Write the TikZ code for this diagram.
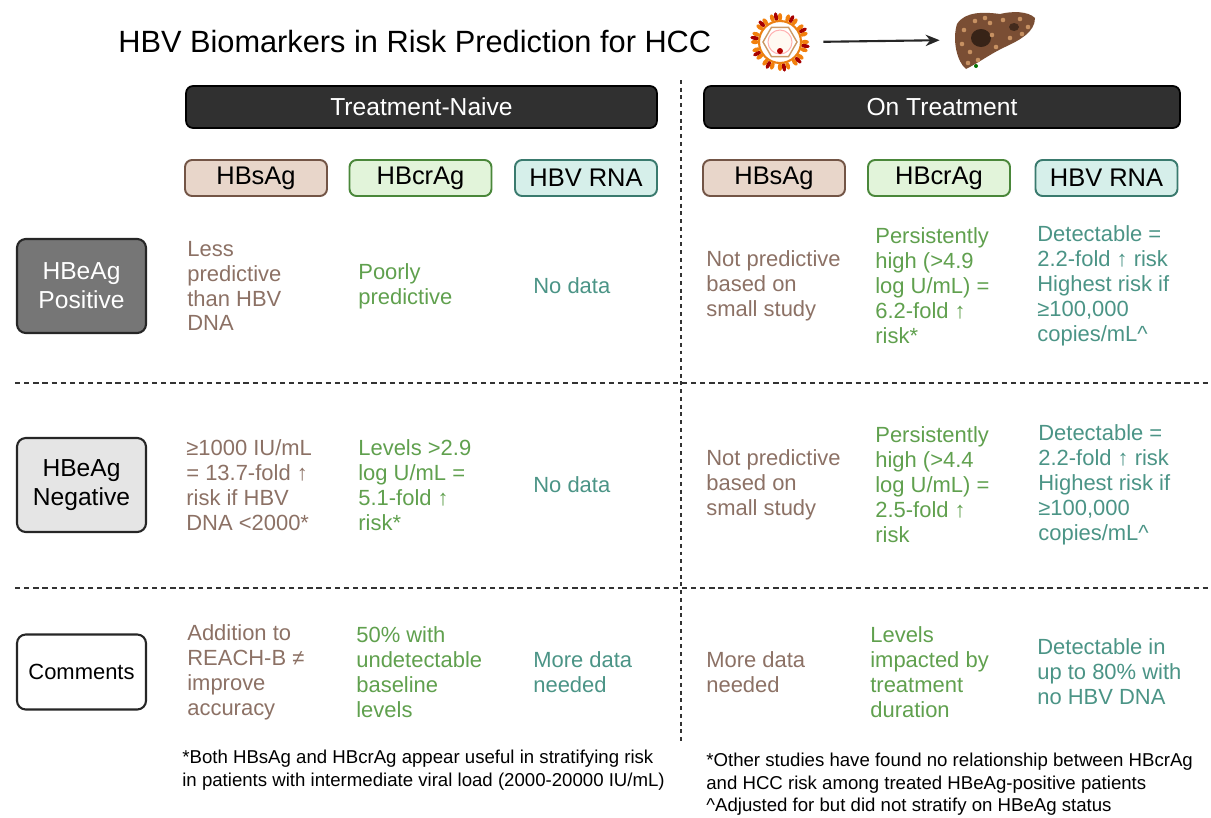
\documentclass[tikz,border=0pt]{standalone}
\usepackage{fontspec}
\setmainfont{Liberation Sans}
\usetikzlibrary{arrows.meta,positioning}

\definecolor{sagtext}{RGB}{140,113,101}
\definecolor{sagfill}{RGB}{232,214,202}
\definecolor{sagline}{RGB}{115,85,70}
\definecolor{cragtext}{RGB}{96,160,78}
\definecolor{cragfill}{RGB}{226,244,218}
\definecolor{cragline}{RGB}{74,135,58}
\definecolor{rnatext}{RGB}{75,148,134}
\definecolor{rnafill}{RGB}{214,239,234}
\definecolor{rnaline}{RGB}{58,122,110}
\definecolor{panelgray}{RGB}{48,48,48}
\definecolor{posgray}{RGB}{118,118,118}
\definecolor{neggray}{RGB}{229,229,229}
\definecolor{liverbrown}{RGB}{122,78,52}

\begin{document}
\begin{tikzpicture}[
                        x=0.02cm, y=-0.02cm,
                        panel/.style={draw=black, fill=panelgray, rounded corners=4pt,
                            line width=1pt, text=white, minimum height=0.84cm,
                            font=\fontsize{14}{16}\selectfont},
                        marker/.style={rounded corners=4pt, line width=1.1pt,
                            minimum width=2.84cm, minimum height=0.72cm,
                            font=\fontsize{14.5}{16}\selectfont},
                        status/.style={draw=black!85, rounded corners=5pt, line width=1.2pt,
                            minimum width=2.58cm, align=center,
                            font=\fontsize{14}{16.5}\selectfont},
                        cell/.style={anchor=west, align=left, inner sep=0pt,
                            font=\fontsize{12.5}{14.2}\selectfont},
                        note/.style={anchor=north west, align=left, inner sep=0pt,
                            font=\fontsize{10.6}{12.8}\selectfont},
                        divider/.style={line width=1.3pt, black!80, dash pattern=on 3pt off 2.2pt}
                    ]
                    \useasboundingbox (0,0) rectangle (1211,818);

                    % title and icons
                    \node[anchor=west, inner sep=0pt, font=\fontsize{17.5}{20}\selectfont]
                        (title) at (118,42) {HBV Biomarkers in Risk Prediction for HCC};

                    \node[circle, minimum size=1.12cm, inner sep=0pt] (virus) at (780,42) {};
                    \foreach \a in {0,18,...,342}
                        \fill[orange!80!brown, rotate around={\a:(780,42)}] (780,17) ellipse (2.2 and 4);
                    \foreach \a in {9,45,...,333}
                        \fill[red!65!black, rotate around={\a:(780,42)}] (780,16.5) ellipse (2 and 4.5);
                    \draw[orange!70!brown, line width=1.2pt, fill=white] (780,42) circle (21);
                    \draw[brown!80, line width=0.8pt] (797,42) -- (788.5,56.7) -- (771.5,56.7)
                        -- (763,42) -- (771.5,27.3) -- (788.5,27.3) -- cycle;
                    \draw[red!30, line width=0.6pt, fill=orange!5] (780,42) circle (12);
                    \fill[red!70!black] (780,51) circle (3);

                    \node[minimum width=1.6cm, minimum height=1.12cm, inner sep=0pt] (liver) at (995,40) {};
                    \fill[liverbrown] (957,24) .. controls (965,11) and (985,12) .. (1000,14)
                        .. controls (1012,11) and (1028,11) .. (1035,18)
                        .. controls (1035,32) and (1020,40) .. (1005,47)
                        .. controls (990,54) and (980,62) .. (966,69)
                        .. controls (957,62) and (952,40) .. (957,24) -- cycle;
                    \fill[black!55!liverbrown] (981,38) ellipse (10 and 9);
                    \fill[black!45!liverbrown] (1014,27) ellipse (5 and 4);
                    \foreach \p in {(964,30),(975,21),(990,23),(1003,20),(1020,19),(1028,27),(1010,38),(996,47),(970,52),(978,60),(962,44),(992,35),(968,63),(1022,34),(985,18)}
                        \fill[orange!40!liverbrown!70!white] \p circle (2.3);
                    \fill[green!45!black] (976,66) circle (2);

                    \draw[-{Stealth[length=8pt,width=6.5pt]}, line width=1.2pt, black!85,
                        shorten <=0.3cm, shorten >=0.3cm] (virus.east) -- (liver.west);

                    % column panels
                    \node[panel, minimum width=9.42cm] (naive) at (421.5,107) {Treatment-Naive};
                    \node[panel, minimum width=9.52cm] (ontx)  at (942,107)   {On Treatment};

                    \node[marker, draw=sagline,  fill=sagfill]  (sagA)  at (256,178)   {HBsAg};
                    \node[marker, draw=cragline, fill=cragfill] (cragA) at (420.5,178) {HBcrAg};
                    \node[marker, draw=rnaline,  fill=rnafill]  (rnaA)  at (586,178)   {HBV RNA};
                    \node[marker, draw=sagline,  fill=sagfill]  (sagB)  at (774,178)   {HBsAg};
                    \node[marker, draw=cragline, fill=cragfill] (cragB) at (939,178)   {HBcrAg};
                    \node[marker, draw=rnaline,  fill=rnafill]  (rnaB)  at (1106.5,178) {HBV RNA};

                    % row labels
                    \node[status, fill=posgray, text=white, minimum height=1.88cm] (pos) at (81.5,286) {HBeAg\\Positive};
                    \node[status, fill=neggray, minimum height=1.88cm] (neg) at (81.5,485) {HBeAg\\Negative};
                    \node[status, fill=white, minimum height=1.5cm,
                        font=\fontsize{12.5}{15}\selectfont] (comm) at (81.5,672) {Comments};

                    % dividers
                    \draw[divider] (15,383) -- (1211,383);
                    \draw[divider] (15,588) -- (1211,588);
                    \draw[divider, dash pattern=on 2.2pt off 2.2pt] (681,80) -- (681,742);

                    % HBeAg positive
                    \node[cell, sagtext]  (posA1) at (187,286) {Less\\predictive\\than HBV\\DNA};
                    \node[cell, cragtext] (posA2) at (358,286) {Poorly\\predictive};
                    \node[cell, rnatext]  (posA3) at (533,286) {No data};
                    \node[cell, sagtext]  (posB1) at (706,286) {Not predictive\\based on\\small study};
                    \node[cell, cragtext] (posB2) at (875,286) {Persistently\\high (>4.9\\log U/mL) =\\6.2-fold ↑\\risk*};
                    \node[cell, rnatext]  (posB3) at (1037,286) {Detectable =\\2.2-fold ↑ risk\\Highest risk if\\≥100,000\\copies/mL\^{}};

                    % HBeAg negative
                    \node[cell, sagtext]  (negA1) at (186,485) {≥1000 IU/mL\\= 13.7-fold ↑\\risk if HBV\\DNA <2000*};
                    \node[cell, cragtext] (negA2) at (358,485) {Levels >2.9\\log U/mL =\\5.1-fold ↑\\risk*};
                    \node[cell, rnatext]  (negA3) at (533,485) {No data};
                    \node[cell, sagtext]  (negB1) at (706,485) {Not predictive\\based on\\small study};
                    \node[cell, cragtext] (negB2) at (875,485) {Persistently\\high (>4.4\\log U/mL) =\\2.5-fold ↑\\risk};
                    \node[cell, rnatext]  (negB3) at (1038,485) {Detectable =\\2.2-fold ↑ risk\\Highest risk if\\≥100,000\\copies/mL\^{}};

                    % comments
                    \node[cell, sagtext]  (comA1) at (187,672) {Addition to\\REACH-B ≠\\improve\\accuracy};
                    \node[cell, cragtext] (comA2) at (356,672) {50\% with\\undetectable\\baseline\\levels};
                    \node[cell, rnatext]  (comA3) at (533,672) {More data\\needed};
                    \node[cell, sagtext]  (comB1) at (706,672) {More data\\needed};
                    \node[cell, cragtext] (comB2) at (870,672) {Levels\\impacted by\\treatment\\duration};
                    \node[cell, rnatext]  (comB3) at (1037,672) {Detectable in\\up to 80\% with\\no HBV DNA};

                    % footnotes
                    \node[note] (noteA) at (182,750) {*Both HBsAg and HBcrAg appear useful in stratifying risk\\in patients with intermediate viral load (2000-20000 IU/mL)};
                    \node[note] (noteB) at (706,753) {*Other studies have found no relationship between HBcrAg\\and HCC risk among treated HBeAg-positive patients\\\^{}Adjusted for but did not stratify on HBeAg status};
                \end{tikzpicture}
\end{document}
